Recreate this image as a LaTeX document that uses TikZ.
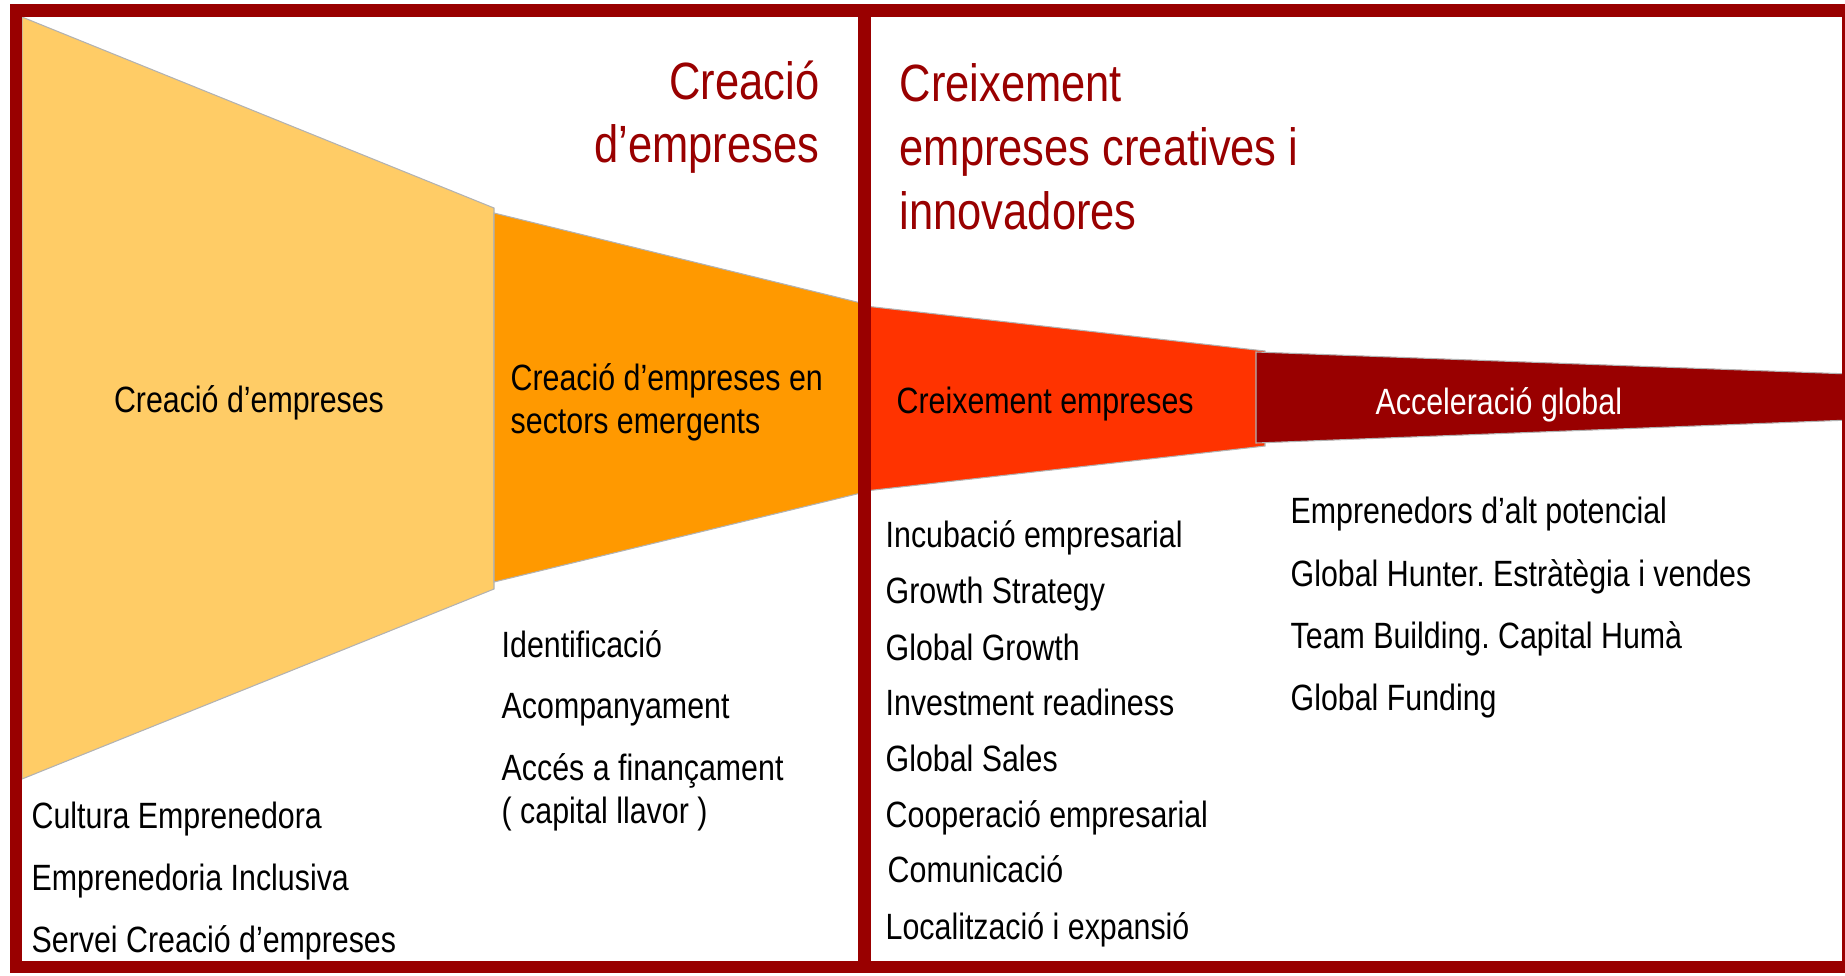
\documentclass[tikz,border=0pt]{standalone}
\usepackage{fontspec}
\setmainfont{Liberation Sans}[FakeStretch=0.83]
\frenchspacing
\definecolor{frameRed}{HTML}{990000}
\definecolor{stageA}{HTML}{FFCC66}
\definecolor{stageB}{HTML}{FF9900}
\definecolor{stageC}{HTML}{FF3300}
\definecolor{stageD}{HTML}{990000}
\newcommand{\funnelItemFont}{\fontsize{10.4}{12.5}\selectfont}
\newcommand{\funnelTitleFont}{\fontsize{14.9}{17.5}\selectfont}

\begin{document}
\begin{tikzpicture}
[x=0.01cm,y=-0.01cm,%
  funnelDecorate/.style={draw=black!30,line width=0.3pt},%
  frameDecorate/.style={draw=frameRed,line width=0.125cm},%
  listText/.style={anchor=base west,inner sep=0pt,font=\funnelItemFont},%
  titleText/.style={inner sep=0pt,text=frameRed,font=\funnelTitleFont}]
\useasboundingbox (0,0) rectangle (1845,975);
\clip (0,0) rectangle (1845,975);
%% funnel stages
\path[funnelDecorate,fill=stageA] (22,17) -- (494,208) -- (494,589) -- (22,779) -- cycle;
\path[funnelDecorate,fill=stageB] (494,213) -- (865,304) -- (865,492) -- (494,582) -- cycle;
\path[funnelDecorate,fill=stageC] (865,306) -- (1265,351) -- (1265,446) -- (865,491) -- cycle;
\path[funnelDecorate,fill=stageD] (1256,352) -- (1850,374) -- (1850,420) -- (1256,443) -- cycle;
%% frames
\draw[frameDecorate] (16,10.5) rectangle (864.5,967);
\draw[frameDecorate] (864.5,10.5) rectangle (1848,967);
%% phase titles
\node[titleText,anchor=base east] (creTa) at (820,99) {Creació};
\node[titleText,anchor=base east] (creTb) at (820,162) {d’empreses};
\node[titleText,anchor=base west] (creixTa) at (899,101) {Creixement};
\node[titleText,anchor=base west] (creixTb) at (899,165) {empreses creatives i};
\node[titleText,anchor=base west] (creixTc) at (899,229) {innovadores};
%% stage labels
\node[listText,anchor=base] (stageLabA) at (249,412) {Creació d’empreses};
\node[listText] (stageLabB) at (510,390) {Creació d’empreses en};
\node[listText] (stageLabBb) at (510,433) {sectors emergents};
\node[listText] (stageLabC) at (896,413) {Creixement empreses};
\node[listText,text=white] (stageLabD) at (1375,414) {Acceleració global};
%% services under each stage
\foreach \nodename/\x/\y/\txt in {
  cA/31/828/{Cultura Emprenedora}, cB/31/890/{Emprenedoria Inclusiva},
  cC/31/952/{Servei Creació d’empreses},
  sA/501/657/{Identificació}, sB/501/718/{Acompanyament},
  sC/501/780/{Accés a finançament}, sD/501/823/{( capital llavor )},
  gA/885/547/{Incubació empresarial}, gB/885/603/{Growth Strategy},
  gC/885/660/{Global Growth}, gD/885/715/{Investment readiness},
  gE/885/771/{Global Sales}, gF/885/827/{Cooperació empresarial},
  gG/887/882/{Comunicació}, gH/885/939/{Localització i expansió},
  aA/1290/523/{Emprenedors d’alt potencial}, aB/1290/586/{Global Hunter. Estràtègia i vendes},
  aC/1290/648/{Team Building. Capital Humà}, aD/1290/710/{Global Funding}}
{
  \node[listText] (\nodename) at (\x,\y) {\txt};
}
\end{tikzpicture}
\end{document}
